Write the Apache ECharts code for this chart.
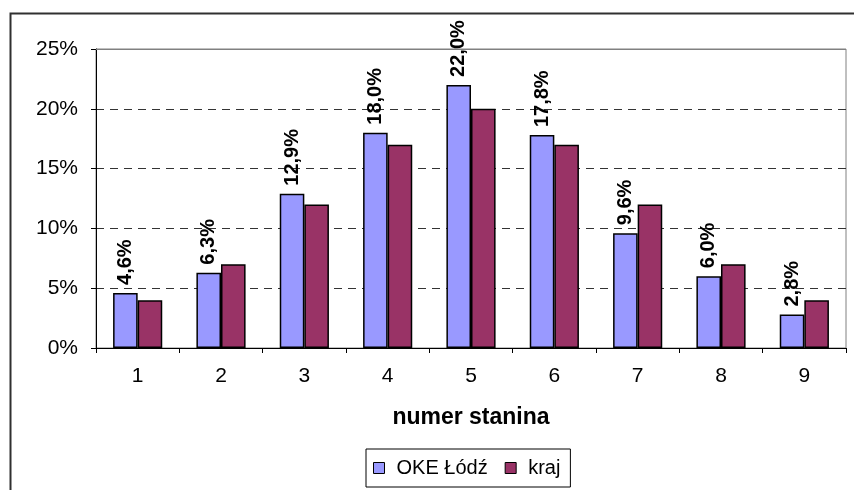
<!DOCTYPE html>
<html>
<head>
<meta charset="utf-8">
<script src="https://cdn.jsdelivr.net/npm/echarts@6/dist/echarts.min.js"></script>
<style>
html,body{margin:0;padding:0;background:#fff;}
#chart{width:854px;height:490px;}
</style>
</head>
<body>
<div id="chart"></div>
<script>
const categories = ['1','2','3','4','5','6','7','8','9'];
const okeLodz = [4.6, 6.3, 12.9, 18.0, 22.0, 17.8, 9.6, 6.0, 2.8];
const kraj = [4.0, 7.0, 12.0, 17.0, 20.0, 17.0, 12.0, 7.0, 4.0];
const seriesNames = ['OKE Łódź', 'kraj'];
const xAxisTitle = 'numer stanina';
const yTicks = {min: 0, max: 25, interval: 5};

const FONT = "'Liberation Sans', Arial, sans-serif";
const chart = echarts.init(document.getElementById('chart'), null, {renderer: 'canvas'});

chart.setOption({
  animation: false,
  backgroundColor: '#ffffff',
  textStyle: {fontFamily: FONT, color: '#000'},
  graphic: [{
    type: 'rect',
    left: 8, top: 11,
    shape: {width: 870, height: 600},
    style: {fill: 'none', stroke: '#303030', lineWidth: 2},
    z: -10
  }],
  grid: {
    left: 96, right: 8, top: 49, bottom: 142,
    show: true, borderColor: '#808080', borderWidth: 1,
    containLabel: false
  },
  legend: {
    data: seriesNames,
    left: 366, top: 449,
    orient: 'horizontal',
    padding: [9, 10, 9, 7],
    borderColor: '#000', borderWidth: 1,
    itemWidth: 11, itemHeight: 11, itemGap: 17,
    icon: 'rect',
    itemStyle: {borderColor: '#000', borderWidth: 1},
    textStyle: {fontFamily: FONT, fontSize: 20, color: '#000', padding: [0, 0, 0, 7]}
  },
  xAxis: {
    type: 'category',
    data: categories,
    name: xAxisTitle,
    nameLocation: 'middle',
    nameGap: 58,
    nameTextStyle: {fontFamily: FONT, fontSize: 23, fontWeight: 'bold', color: '#000'},
    axisLine: {lineStyle: {color: '#000', width: 1}},
    axisTick: {show: true, length: 5, lineStyle: {color: '#000'}},
    axisLabel: {fontFamily: FONT, fontSize: 21, color: '#000', margin: 18}
  },
  yAxis: {
    type: 'value',
    min: yTicks.min, max: yTicks.max, interval: yTicks.interval,
    axisLine: {show: true, lineStyle: {color: '#000', width: 1}},
    axisTick: {show: true, length: 5, lineStyle: {color: '#000'}},
    axisLabel: {fontFamily: FONT, fontSize: 21, color: '#000', margin: 18, formatter: '{value}%'},
    splitLine: {show: true, lineStyle: {color: '#333', type: [8, 6], width: 1}}
  },
  series: [
    {
      name: seriesNames[0],
      type: 'bar',
      data: okeLodz,
      barGap: '0%',
      barCategoryGap: '41%',
      itemStyle: {color: '#9999FF', borderColor: '#000', borderWidth: 1.5},
      label: {
        show: true,
        position: 'top',
        rotate: 90,
        align: 'left',
        verticalAlign: 'middle',
        distance: 8,
        fontFamily: FONT, fontSize: 20, fontWeight: 'bold', color: '#000',
        formatter: p => p.value.toFixed(1).replace('.', ',') + '%'
      },
      markLine: {
        silent: true,
        symbol: 'none',
        label: {show: false},
        lineStyle: {color: '#808080', type: 'solid', width: 1},
        data: [{yAxis: yTicks.max}]
      }
    },
    {
      name: seriesNames[1],
      type: 'bar',
      data: kraj,
      barGap: '0%',
      barCategoryGap: '41%',
      itemStyle: {color: '#993366', borderColor: '#000', borderWidth: 1.5}
    }
  ]
});
</script>
</body>
</html>
